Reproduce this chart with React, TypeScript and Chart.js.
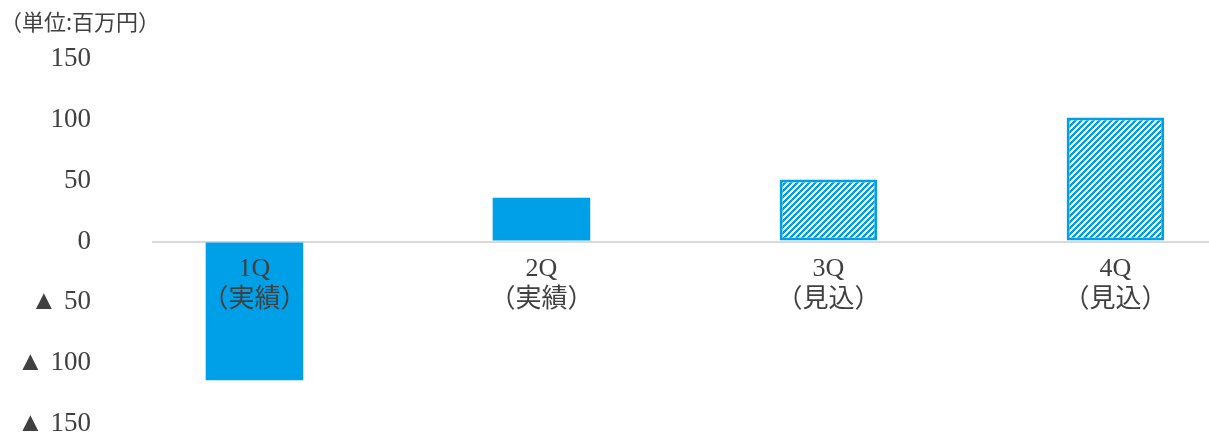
import React, { useEffect, useRef } from 'react';
import { Chart, registerables } from 'chart.js';

Chart.register(...registerables);

const UNIT_LABEL = '（単位:百万円）';
const CATEGORY_LINES: string[][] = [
  ['1Q', '（実績）'],
  ['2Q', '（実績）'],
  ['3Q', '（見込）'],
  ['4Q', '（見込）'],
];
const CATEGORY_POS = [0, 1, 2, 3];
const VALUES = [-114, 36, 51, 102];
const HATCHED = [false, false, true, true];
const Y_TICKS = [-150, -100, -50, 0, 50, 100, 150];

const BLUE = '#00A0E9';
const TEXT = '#404040';

function formatTick(v: number): string {
  return v < 0 ? '▲ ' + Math.abs(v) : String(v);
}

const unitPlugin = {
  id: 'unitLabel',
  afterDraw(chart: any) {
    const ctx = chart.ctx;
    ctx.save();
    ctx.font = '22px "Noto Sans CJK JP"';
    ctx.fillStyle = TEXT;
    ctx.textBaseline = 'middle';
    ctx.textAlign = 'left';
    ctx.fillText(UNIT_LABEL, 0, 22);
    ctx.restore();
  },
};

const categoryLabelPlugin = {
  id: 'categoryLabels',
  afterDatasetsDraw(chart: any) {
    const ctx = chart.ctx;
    const xs = chart.scales.x;
    const ys = chart.scales.y;
    const y0 = ys.getPixelForValue(0);
    ctx.save();
    ctx.font = '26px "Liberation Serif", "Noto Sans CJK JP"';
    ctx.fillStyle = TEXT;
    ctx.textAlign = 'center';
    ctx.textBaseline = 'middle';
    CATEGORY_LINES.forEach((lines, i) => {
      const x = xs.getPixelForValue(CATEGORY_POS[i]);
      lines.forEach((t, j) => {
        ctx.fillText(t, x, y0 + 28 + j * 31);
      });
    });
    ctx.restore();
  },
};

export default function App() {
  const ref = useRef<HTMLCanvasElement | null>(null);

  useEffect(() => {
    const canvas = ref.current!;
    const ctx = canvas.getContext('2d')!;
    const P = 6;
    const tile = document.createElement('canvas');
    tile.width = P;
    tile.height = P;
    const g = tile.getContext('2d')!;
    g.fillStyle = '#ffffff';
    g.fillRect(0, 0, P, P);
    g.fillStyle = BLUE;
    for (let y = 0; y < P; y++) {
      for (let x = 0; x < P; x++) {
        if ((x + y) % P < P / 2) g.fillRect(x, y, 1, 1);
      }
    }
    const hatch = ctx.createPattern(tile, 'repeat')!;

    const chart = new Chart(canvas, {
      type: 'bar',
      data: {
        datasets: [
          {
            data: CATEGORY_POS.map((x, i) => ({ x, y: VALUES[i] })),
            backgroundColor: HATCHED.map((h) => (h ? hatch : BLUE)) as any,
            borderColor: BLUE,
            borderWidth: HATCHED.map((h) => (h ? 3 : 0)),
            borderSkipped: false,
            categoryPercentage: 0.34,
            barPercentage: 1,
          } as any,
        ],
      },
      options: {
        animation: false,
        responsive: true,
        maintainAspectRatio: false,
        layout: { padding: { top: 59, bottom: 12, left: 0, right: 0 } },
        plugins: {
          legend: { display: false },
          tooltip: { enabled: false },
        },
        scales: {
          x: {
            type: 'linear',
            display: false,
            min: -0.357,
            max: 3.326,
            offset: false,
            afterBuildTicks: (scale: any) => {
              scale.ticks = CATEGORY_POS.map((v) => ({ value: v }));
            },
          },
          y: {
            min: -150,
            max: 150,
            afterFit: (scale: any) => {
              scale.width = 152;
            },
            afterBuildTicks: (scale: any) => {
              scale.ticks = Y_TICKS.map((v) => ({ value: v }));
            },
            grid: {
              drawTicks: true,
              tickLength: 61,
              tickColor: 'rgba(0,0,0,0)',
              color: (c: any) => (c.tick && c.tick.value === 0 ? '#d9d9d9' : 'rgba(0,0,0,0)'),
              lineWidth: 2,
            },
            border: { display: false },
            ticks: {
              padding: 0,
              color: TEXT,
              font: { family: '"Liberation Serif", "DejaVu Sans"', size: 27, lineHeight: 0.8 },
              callback: (v: any) => formatTick(Number(v)),
            },
          },
        },
      },
      plugins: [unitPlugin, categoryLabelPlugin],
    });
    return () => chart.destroy();
  }, []);

  return (
    <div style={{ position: 'fixed', left: 0, top: 0, width: 1209, height: 436, background: '#fff' }}>
      <canvas ref={ref} />
    </div>
  );
}
